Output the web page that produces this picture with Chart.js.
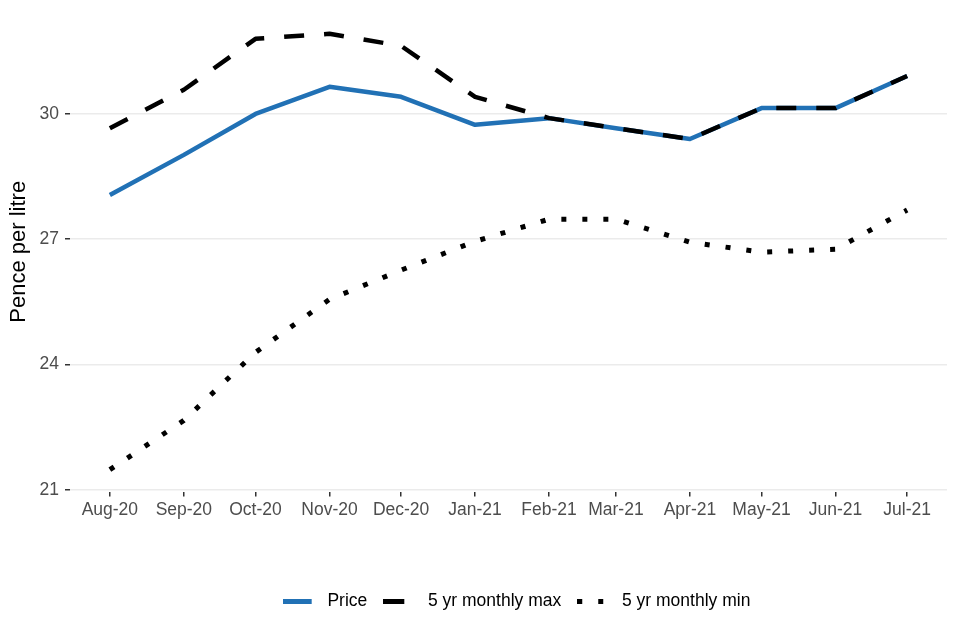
<!DOCTYPE html>
<html>
<head>
<meta charset="utf-8">
<script src="https://cdn.jsdelivr.net/npm/chart.js@4"></script>
<style>
	html, body { margin: 0; padding: 0; background: #fff; }
	#wrap { width: 960px; height: 640px; }
</style>
</head>
<body>
<div id="wrap"><canvas id="price-chart"></canvas></div>
<script>
const months = ['2020-08-01', '2020-09-01', '2020-10-01', '2020-11-01', '2020-12-01', '2021-01-01',
	'2021-02-01', '2021-03-01', '2021-04-01', '2021-05-01', '2021-06-01', '2021-07-01'];
const monthLabels = ['Aug-20', 'Sep-20', 'Oct-20', 'Nov-20', 'Dec-20', 'Jan-21',
	'Feb-21', 'Mar-21', 'Apr-21', 'May-21', 'Jun-21', 'Jul-21'];
const price = [28.06, 29.02, 30.00, 30.65, 30.41, 29.74, 29.90, 29.66, 29.40, 30.14, 30.14, 30.91];
const maxFiveYr = [29.66, 30.58, 31.80, 31.92, 31.63, 30.41, 29.90, 29.66, 29.40, 30.14, 30.14, 30.91];
const minFiveYr = [21.48, 22.66, 24.29, 25.56, 26.26, 26.95, 27.48, 27.48, 26.93, 26.69, 26.76, 27.70];
const yTicks = [21, 24, 27, 30];

// days since first month, so the x axis spacing follows the calendar
const start = Date.parse(months[0]);
const days = months.map(m => (Date.parse(m) - start) / 86400000);

function toPoints(values) {
	return values.map((v, i) => ({ x: days[i], y: v }));
}

/**
 * Small canvases used as legend keys.
 */
function legendKey(color, segments) {
	const c = document.createElement('canvas');
	c.width = 36;
	c.height = 5;
	const g = c.getContext('2d');
	g.fillStyle = color;
	segments.forEach(s => g.fillRect(s[0], 0, s[1], 5));
	return c;
}

const keys = [
	legendKey('#2171b5', [[0, 29]]),
	legendKey('#000000', [[0, 21]]),
	legendKey('#000000', [[0, 5], [21, 5]])
];

// ggplot centres the legend a little right of the canvas middle
const legendShift = {
	id: 'legendShift',
	afterLayout(chart) {
		chart.legend.left += 43;
		chart.legend.right += 43;
	}
};

const span = days[days.length - 1] - days[0];
const lo = Math.min(...minFiveYr), hi = Math.max(...maxFiveYr);
const font = 'Liberation Sans';

new Chart(document.getElementById('price-chart'), {
	type: 'line',
	data: {
		datasets: [{
			label: 'Price',
			data: toPoints(price),
			borderColor: '#2171b5',
			borderWidth: 4.5,
			order: 3,
			pointStyle: keys[0]
		}, {
			label: '5 yr monthly max',
			data: toPoints(maxFiveYr),
			borderColor: '#000000',
			borderWidth: 4.5,
			borderDash: [20, 20],
			order: 1,
			pointStyle: keys[1]
		}, {
			label: '5 yr monthly min',
			data: toPoints(minFiveYr),
			borderColor: '#000000',
			borderWidth: 5,
			borderDash: [5, 16],
			order: 2,
			pointStyle: keys[2]
		}]
	},
	plugins: [legendShift],
	options: {
		responsive: true,
		maintainAspectRatio: false,
		animation: false,
		elements: {
			point: { radius: 0, hoverRadius: 0 },
			line: { tension: 0, borderJoinStyle: 'round', fill: false }
		},
		layout: { padding: { top: 12, right: 13, bottom: 20, left: 0 } },
		scales: {
			x: {
				type: 'linear',
				min: days[0] - span * 0.05,
				max: days[days.length - 1] + span * 0.05,
				border: { display: false },
				grid: { drawOnChartArea: false, tickColor: '#333333', tickLength: 5, lineWidth: 1.5 },
				afterBuildTicks: axis => { axis.ticks = days.map(d => ({ value: d })); },
				afterFit: axis => { axis.height = 85; },
				ticks: {
					autoSkip: false,
					maxRotation: 0,
					padding: 3,
					color: '#4d4d4d',
					font: { family: font, size: 17.5 },
					callback: value => monthLabels[days.indexOf(value)]
				}
			},
			y: {
				min: lo - (hi - lo) * 0.05,
				max: hi + (hi - lo) * 0.05,
				border: { display: false },
				grid: { color: '#ebebeb', lineWidth: 1.5, tickColor: '#333333', tickLength: 5 },
				afterBuildTicks: axis => { axis.ticks = yTicks.map(v => ({ value: v })); },
				afterFit: axis => { axis.width = 70; axis.paddingTop = 0; },
				ticks: {
					padding: 6,
					color: '#4d4d4d',
					font: { family: font, size: 17.5 }
				},
				title: {
					display: true,
					text: 'Pence per litre',
					color: '#000000',
					font: { family: font, size: 22 },
					padding: { top: 6, bottom: 0 }
				}
			}
		},
		plugins: {
			legend: {
				position: 'bottom',
				labels: {
					usePointStyle: true,
					pointStyleWidth: 36,
					padding: 16,
					color: '#000000',
					font: { family: font, size: 17.5 },
					sort: (a, b) => a.datasetIndex - b.datasetIndex
				}
			},
			tooltip: { enabled: false }
		}
	}
});
</script>
</body>
</html>
